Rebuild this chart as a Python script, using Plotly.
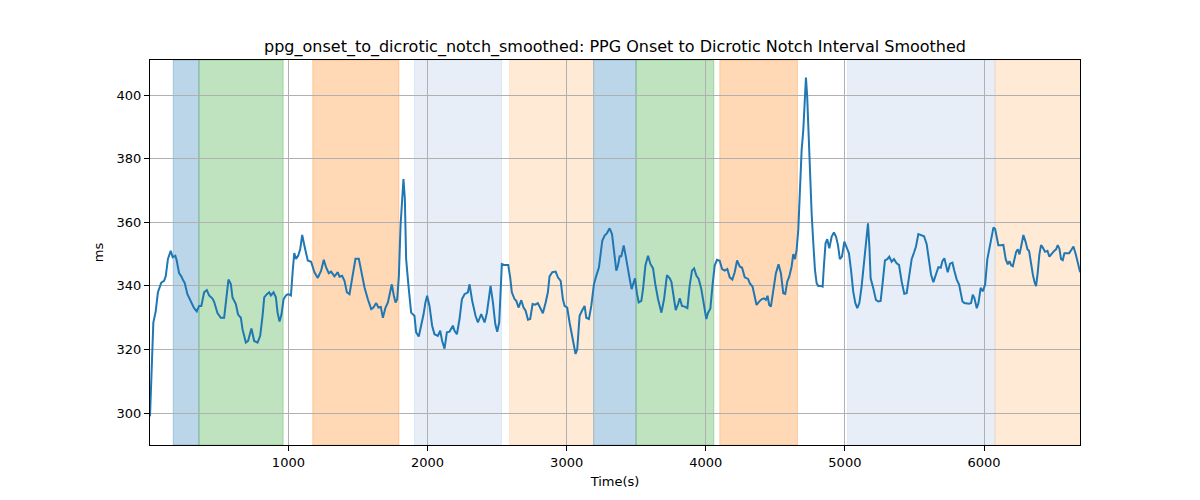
import plotly.graph_objects as go

# ---- data ----
time_s = [5, 16, 29, 46, 62, 86, 106, 118, 134, 154, 168, 187, 197, 214, 230, 245, 254, 274, 298, 322, 341,
          358, 374, 394, 413, 430, 454, 466, 490, 514, 538, 552, 569, 586, 598, 622, 638, 658, 670, 694, 710,
          734, 754, 778, 797, 814, 826, 845, 862, 874, 893, 910, 922, 936, 950, 965, 982, 998, 1018, 1032,
          1042, 1054, 1070, 1085, 1099,
          1115, 1139, 1163, 1187, 1211, 1235, 1254, 1271, 1290, 1307, 1331, 1355, 1367, 1386, 1403, 1420,
          1439, 1463, 1482, 1506, 1523, 1547, 1571, 1595, 1611, 1631, 1647, 1664, 1679, 1698, 1715, 1726,
          1743, 1758, 1770, 1782, 1794, 1806, 1818, 1827, 1837, 1846, 1863, 1882, 1906, 1918, 1937, 1954,
          1971, 1985, 1997, 2014, 2033, 2050, 2074, 2091, 2105, 2122, 2139,
          2158, 2182, 2194, 2211, 2230, 2247, 2266, 2290, 2302, 2321, 2345, 2362, 2386, 2410, 2427, 2441,
          2453, 2470, 2487, 2501, 2515, 2525, 2534, 2549, 2566, 2580, 2594, 2606, 2626, 2638, 2654, 2674,
          2690, 2705, 2722, 2738, 2755, 2774, 2793, 2810, 2829, 2849, 2865, 2877, 2897, 2921, 2937, 2957,
          2973, 2985, 3004, 3021, 3040, 3052, 3064, 3076, 3093, 3110, 3129, 3141, 3160, 3177, 3196, 3213,
          3232,
          3256, 3273, 3290, 3309, 3326, 3340, 3357, 3369, 3381, 3393, 3410, 3424, 3441, 3453, 3467, 3477,
          3491, 3506, 3518, 3537, 3549, 3566, 3585, 3602, 3621, 3637, 3657, 3681, 3700, 3721, 3741, 3753,
          3769, 3784, 3801, 3813, 3829, 3849, 3868, 3884, 3901, 3916, 3933, 3949, 3968, 3985, 4004, 4016,
          4033, 4048, 4064, 4081, 4100, 4117, 4136, 4155, 4172, 4191, 4208, 4225, 4244, 4261, 4280, 4304,
          4317, 4336, 4353, 4365, 4382, 4401, 4418, 4432, 4444, 4456, 4468, 4485, 4504, 4523, 4540, 4557,
          4571, 4586, 4600, 4617, 4629, 4641, 4653, 4665, 4677, 4689, 4701, 4713, 4720, 4729, 4739, 4749,
          4761, 4773, 4785, 4797, 4809, 4825, 4840, 4849, 4861, 4873, 4888, 4905, 4921, 4936, 4950, 4964,
          4979, 4996, 5012, 5029, 5044, 5060, 5075, 5089, 5104, 5120, 5137, 5151, 5166, 5176, 5185, 5204,
          5223, 5240, 5257, 5271, 5288, 5305, 5319, 5336, 5353, 5372, 5389, 5408, 5427, 5444, 5461,
          5480, 5497, 5511, 5528, 5547, 5569, 5588, 5605, 5619, 5636, 5653, 5672, 5689, 5701, 5715, 5727,
          5739, 5756, 5773, 5787, 5804, 5821, 5833, 5845, 5859, 5876, 5892, 5907, 5919, 5931, 5948, 5960,
          5976, 5991, 6008, 6024, 6039, 6053, 6068, 6080, 6091, 6103, 6123, 6139, 6156, 6171, 6183, 6195,
          6207, 6219, 6231, 6243, 6255, 6267, 6283, 6300, 6312, 6324, 6336, 6351, 6363, 6374, 6386, 6398,
          6410, 6422, 6439, 6456, 6470, 6487, 6504, 6518, 6530, 6542, 6554, 6566, 6578, 6595, 6612, 6626,
          6643, 6660, 6674, 6691]

interval_ms = [299, 316, 328.5, 332, 338, 341, 341.6, 343, 348.5, 351, 349, 349.5, 348, 344, 343, 341.6, 341,
               337.4, 335.3, 333, 332, 333.7, 333.7, 338, 338.7, 337, 336, 335, 331.5, 330, 330, 336, 342,
               340.6, 336.4, 334.3, 331, 330, 326.4, 322.2, 322.7, 326.6, 322.7, 322.2, 324.3, 330.6, 336.4,
               337.4, 338, 337, 338, 336.4, 331.6, 328.8, 331, 335.8, 337, 337.4, 337, 345.3, 350.3, 348.5,
               349.5, 351.6, 356,
               352.6, 348, 347.6, 344.3, 342.5, 344.8, 348.2, 345.8, 344, 344.5, 343, 344.3, 342.9, 343.2,
               341.6, 338, 337.4, 343.7, 348.5, 348.5, 344.8, 339.5, 335.8, 332.7, 333.2, 334.6, 333.2, 333.4,
               330, 333.2, 334.8, 336.9, 340.5, 336.9, 334.8, 335.8, 343.2, 359, 370, 373.6, 367.3, 348.5, 340,
               331.6, 330.6, 325.4, 324.1, 327.5, 331, 334.8, 336.9, 333.7, 327.5, 324.8, 324.3, 325.9, 322.7,
               320.3, 325.4,
               325.6, 327.5, 325.9, 324.8, 329.6, 335.8, 337.4, 338, 340.5, 335.3, 330.6, 328.5, 331.1, 328.5,
               331.6, 335.8, 340, 334.8, 328, 325.6, 328.5, 338, 346.9, 346.6, 346.6, 346.6, 342.7, 338, 335.8,
               335.3, 333.2, 335.5, 333.2, 332.2, 329.4, 329.6, 334.3, 334.1, 334.6, 333.2, 331.4, 334.8, 338,
               343, 344.3, 344.5, 342.7, 341.6, 335.8, 333.7, 333.2, 328.5, 323.8, 320.3, 318.6, 320.1, 330.6,
               332.2, 333.7, 330, 329.6, 333.7, 340.5, 343.2, 345.8,
               354.2, 355.8, 356.6, 358.1, 356.3, 350.6, 344.8, 346.4, 349.3, 349.3, 352.7, 349.5, 344.3, 342.2,
               339, 340.6, 342.4, 337.4, 334.8, 335.3, 339, 346.4, 349.5, 346.9, 345.5, 340.6, 335.8, 331.6,
               335.8, 343.4, 342.4, 341.3, 335.8, 332.4, 334.3, 336.1, 333.7, 333.5, 333, 340, 344.8, 345.5,
               343.2, 342.2, 339, 334.8, 329.6, 331.5, 332.9, 340, 346.4, 348.2, 347.9, 345.3, 344.8, 345.3,
               342.7, 342, 344.3, 348, 346.1, 345.7, 342.7, 342.2,
               340.8, 339.8, 336.6, 334, 335, 335.8, 336.1, 335.6, 336.9, 334, 333.5, 338.7, 344, 346.8, 344,
               337.7, 337.5, 341.4, 342.9, 346.1, 350, 348.4, 351.3, 357.6, 371.2, 382.7, 389, 399.5, 405.5,
               399.5, 387, 373.3, 362.8, 353.4, 345, 340.8, 340, 340, 339.8, 346.1, 353.4, 354.7, 351.8, 355.5,
               356.8, 355.5, 352.9, 348.4, 349.2, 353.9, 351.8, 350.3, 345, 338.2, 334.6, 333, 334.6, 339.8,
               347.1, 353.4, 359.7, 352.4, 342.4, 339.3, 335.6, 335.1, 335.3, 340.8, 348, 348.4, 349.2, 347.6,
               348.4, 347.1, 346.6, 341.4, 337.5, 337.7, 342.4,
               348.4, 350.5, 352.4, 356.3, 356, 355.6, 353.1, 348.4, 343.6, 341.2, 343.6, 345.9, 345.7, 347.8,
               348.7, 346.5, 344.3, 347, 347.3, 344.7, 342, 340.4, 337.8, 335.1, 334.6, 334.4, 334.4, 334.6,
               337.2, 336.2, 333, 334.6, 339.4, 338.3, 340.4, 348.4, 352.1, 355.8, 358.4, 357.9, 355.2, 352.8,
               352.8, 352.9, 348.4, 346.8, 347.8, 346.5, 346.2, 348.4, 350.7, 351.5, 349.9, 352.4, 356, 353.7,
               351.5, 351, 347.3, 343.6, 341.2, 339.9, 344.1, 349.9, 352.8, 352.1, 350.7, 351, 349.2, 350.3,
               351, 351.5, 352.8, 351.7, 348.4, 348.1, 350.3, 350.3, 350.3, 351.2, 352.4, 349.9, 347.3, 344.3]

# shaded phases: (start, end, colour)
span_start = [172, 357, 1175, 1906, 2590, 3194, 3499, 4101, 5019, 6079]
span_end = [357, 962, 1794, 2532, 3194, 3499, 4058, 4659, 6079, 6720]
span_color = ["31,119,180", "44,160,44", "255,127,14", "174,199,232", "255,187,120",
              "31,119,180", "44,160,44", "255,127,14", "174,199,232", "255,187,120"]

x_ticks = [1000, 2000, 3000, 4000, 5000, 6000]
y_ticks = [300, 320, 340, 360, 380, 400]

fig = go.Figure()
fig.add_trace(go.Scatter(x=time_s, y=interval_ms, mode="lines",
                         line=dict(color="#1f77b4", width=2), showlegend=False))

for s, e, c in zip(span_start, span_end, span_color):
    fig.add_shape(type="rect", xref="x", yref="paper", x0=s, x1=e, y0=0, y1=1,
                  fillcolor=f"rgba({c},0.3)", line=dict(color=f"rgba({c},0.3)", width=1),
                  layer="between")

font = "DejaVu Sans, sans-serif"
fig.update_layout(
    width=1200, height=500,
    margin=dict(l=142, r=128, t=52, b=63),
    paper_bgcolor="white", plot_bgcolor="white",
    title=dict(text="ppg_onset_to_dicrotic_notch_smoothed: PPG Onset to Dicrotic Notch Interval Smoothed",
               x=0.5, xref="paper", xanchor="center", y=1 - 38 / 500, yanchor="middle",
               font=dict(family=font, size=16, color="black")),
    font=dict(family=font, size=13, color="black"),
)
fig.update_xaxes(range=[5, 6690], tickvals=x_ticks, showgrid=True, gridcolor="#b0b0b0", gridwidth=1,
                 showline=True, linecolor="black", linewidth=1, mirror=True,
                 ticks="outside", ticklen=5, tickcolor="black", zeroline=False,
                 title=dict(text="Time(s)", font=dict(family=font, size=13), standoff=8))
fig.update_yaxes(range=[290, 411], tickvals=y_ticks, showgrid=True, gridcolor="#b0b0b0", gridwidth=1,
                 showline=True, linecolor="black", linewidth=1, mirror=True,
                 ticks="outside", ticklen=5, tickcolor="black", zeroline=False,
                 title=dict(text="ms", font=dict(family=font, size=13), standoff=10))

fig.write_html("out.html")
